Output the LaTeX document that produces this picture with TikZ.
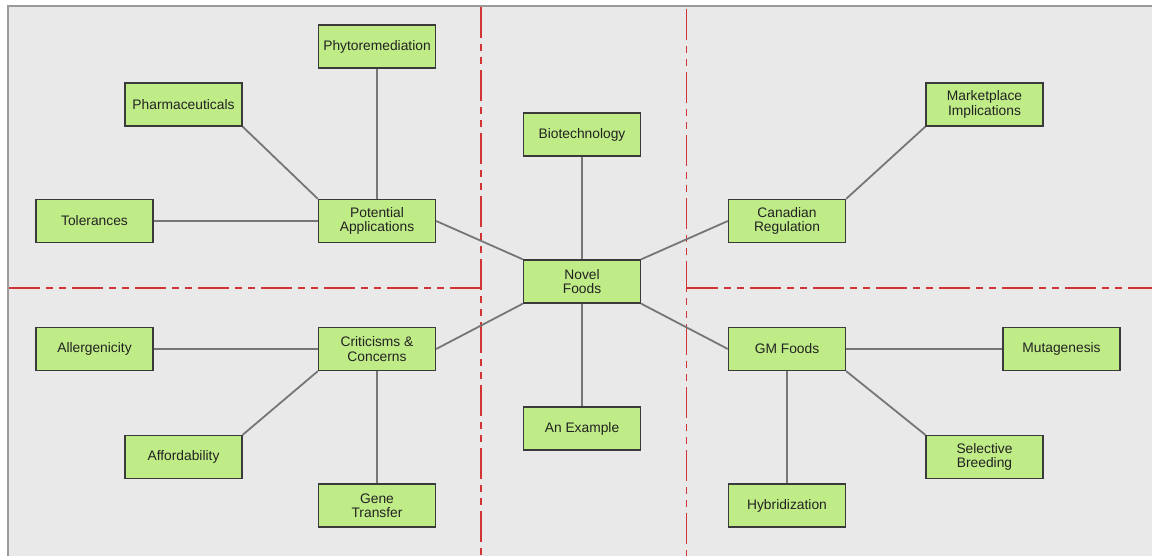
\documentclass[tikz,border=0pt]{standalone}
\usepackage{fontspec}
\setmainfont{Liberation Sans}
\definecolor{canvas}{HTML}{E9E9E9}
\definecolor{framecol}{HTML}{9A9A9A}
\definecolor{nodefill}{HTML}{C0EC88}
\definecolor{nodeedge}{HTML}{3A3A3A}
\definecolor{textcol}{HTML}{222222}
\definecolor{linkcol}{HTML}{767676}
\definecolor{divred}{HTML}{D03434}
\begin{document}
\begin{tikzpicture}[x=1pt,y=-1pt,
  topic/.style={draw=nodeedge, line width=1.3pt, fill=nodefill,
    minimum width=117pt, minimum height=43pt, inner sep=0pt,
    align=center, font=\fontsize{13.8}{14.5}\selectfont, text=textcol},
  link/.style={draw=linkcol, line width=1.8pt},
  divider/.style={draw=divred, line width=1.5pt,
    dash pattern=on 31pt off 6pt on 7pt off 6pt on 7pt off 6pt}]
\useasboundingbox (0,0) rectangle (1152,556);
% canvas and its frame
\fill[white] (0,0) rectangle (1152,556);
\fill[canvas] (8,6) rectangle (1152,556);
\draw[framecol, line width=2.5pt] (8,556) -- (8,6) -- (1152,6);

% quadrant dividers
\draw[divider] (481,7) -- (481,556);
\draw[divider] (686.5,9) -- (686.5,556);
\draw[divider] (9,288) -- (481,288);
\draw[divider] (687,288) -- (1152,288);

% centre
\node[topic] (novel) at (582,281.5) {Novel\\Foods};
\node[topic] (bio) at (582,134.5) {Biotechnology};
\node[topic] (example) at (582,428.5) {An Example};

% potential applications
\node[topic] (pot) at (377,221) {Potential\\Applications};
\node[topic] (phyto) at (377,46.5) {Phytoremediation};
\node[topic] (pharma) at (183.5,104.5) {Pharmaceuticals};
\node[topic] (tol) at (94.5,221) {Tolerances};

% criticisms
\node[topic] (crit) at (377,349) {Criticisms \&\\Concerns};
\node[topic] (allerg) at (94.5,349) {Allergenicity};
\node[topic] (afford) at (183.5,457) {Affordability};
\node[topic] (gene) at (377,505.5) {Gene\\Transfer};

% regulation
\node[topic] (canreg) at (787,221) {Canadian\\Regulation};
\node[topic] (market) at (984.5,104.5) {Marketplace\\Implications};

% GM foods
\node[topic] (gm) at (787,349) {GM Foods};
\node[topic] (muta) at (1061.5,349) {Mutagenesis};
\node[topic] (sel) at (984.5,457) {Selective\\Breeding};
\node[topic] (hyb) at (787,505.5) {Hybridization};

% connectors
\draw[link] (bio.south) -- (novel.north);
\draw[link] (novel.south) -- (example.north);
\draw[link] (pot.east) -- (novel.north west);
\draw[link] (canreg.west) -- (novel.north east);
\draw[link] (crit.east) -- (novel.south west);
\draw[link] (gm.west) -- (novel.south east);

\draw[link] (phyto.south) -- (pot.north);
\draw[link] (pharma.south east) -- (pot.north west);
\draw[link] (tol.east) -- (pot.west);

\draw[link] (allerg.east) -- (crit.west);
\draw[link] (afford.north east) -- (crit.south west);
\draw[link] (gene.north) -- (crit.south);

\draw[link] (market.south west) -- (canreg.north east);

\draw[link] (muta.west) -- (gm.east);
\draw[link] (sel.north west) -- (gm.south east);
\draw[link] (hyb.north) -- (gm.south);
\end{tikzpicture}
\end{document}
